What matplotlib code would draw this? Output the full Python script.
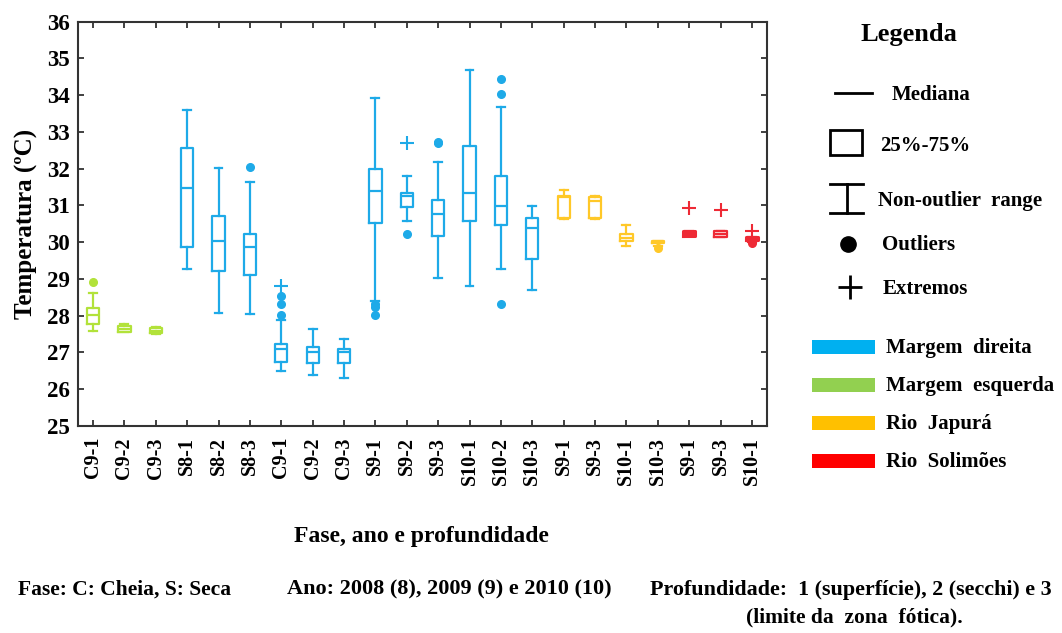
import matplotlib.pyplot as plt
from matplotlib.lines import Line2D
from matplotlib.patches import Rectangle

plt.rcParams['font.family'] = ['Liberation Serif', 'DejaVu Serif']
plt.rcParams['font.weight'] = 'bold'

# Categorias (fase + ano - profundidade)
rotulos = ['C9-1', 'C9-2', 'C9-3', 'S8-1', 'S8-2', 'S8-3', 'C9-1', 'C9-2', 'C9-3',
           'S9-1', 'S9-2', 'S9-3', 'S10-1', 'S10-2', 'S10-3', 'S9-1', 'S9-3',
           'S10-1', 'S10-3', 'S9-1', 'S9-3', 'S10-1']
grupo = ['esq'] * 3 + ['dir'] * 12 + ['jap'] * 4 + ['sol'] * 3

# Estatisticas de temperatura (ºC)
minimo = [27.59, 27.55, 27.50, 29.27, 28.08, 28.04, 26.49, 26.40, 26.31,
          28.40, 30.58, 29.03, 28.80, 29.26, 28.71, 30.63, 30.63,
          29.89, 29.90, 30.16, 30.14, 30.00]
q1 = [27.77, 27.57, 27.52, 29.88, 29.21, 29.12, 26.73, 26.72, 26.72,
      30.52, 30.97, 30.16, 30.57, 30.48, 29.53, 30.65, 30.65,
      30.02, 29.98, 30.17, 30.15, 30.05]
mediana = [28.01, 27.65, 27.59, 31.47, 30.04, 29.88, 27.09, 27.00, 27.00,
           31.38, 31.26, 30.76, 31.34, 30.98, 30.39, 31.22, 31.11,
           30.11, 30.00, 30.22, 30.22, 30.10]
q3 = [28.22, 27.72, 27.66, 32.56, 30.71, 30.22, 27.23, 27.14, 27.09,
      31.98, 31.34, 31.16, 32.61, 31.80, 30.67, 31.26, 31.23,
      30.22, 30.02, 30.31, 30.31, 30.14]
maximo = [28.61, 27.78, 27.69, 33.60, 32.02, 31.65, 27.89, 27.63, 27.36,
          33.92, 31.79, 32.19, 34.69, 33.69, 30.98, 31.43, 31.25,
          30.48, 30.03, 30.31, 30.31, 30.15]
outliers = [[28.92], [], [], [], [], [32.05], [28.01, 28.33, 28.53], [], [],
            [28.32, 28.25, 28.01], [30.23], [32.70, 32.73], [], [28.33, 34.04, 34.44], [],
            [], [], [], [29.84], [], [], [29.99]]
extremos = [[], [], [], [], [], [], [28.80], [], [],
            [], [32.70], [], [], [], [],
            [], [], [], [], [30.93], [30.87], [30.30]]

cor_caixa = {'dir': '#1eaae8', 'esq': '#b2e23a', 'jap': '#ffc828', 'sol': '#ee2a35'}

fig = plt.figure(figsize=(10.62, 6.33), dpi=100)
ax = fig.add_axes([0.0734, 0.327, 0.6488, 0.6389])

for i in range(len(rotulos)):
    c = cor_caixa[grupo[i]]
    # caixas do Solimoes quase cheias, exceto S9-3
    lw = 2.2 if (grupo[i] == 'sol' and i != 20) else 1.6
    st = [{'med': mediana[i], 'q1': q1[i], 'q3': q3[i],
           'whislo': minimo[i], 'whishi': maximo[i], 'fliers': outliers[i]}]
    ax.bxp(st, positions=[i], widths=0.39, showfliers=True,
           boxprops=dict(color=c, linewidth=lw),
           medianprops=dict(color=c, linewidth=lw),
           whiskerprops=dict(color=c, linewidth=1.6),
           capprops=dict(color=c, linewidth=1.6), capwidths=0.25,
           flierprops=dict(marker='o', markerfacecolor=c, markeredgecolor=c,
                           markersize=5.5, linestyle='none'))
    if extremos[i]:
        ax.plot([i] * len(extremos[i]), extremos[i], linestyle='none', marker='+',
                color=c, markersize=10, markeredgewidth=1.5)

ax.set_xlim(-0.48, len(rotulos) - 1 + 0.48)
ax.set_ylim(25, 36)
ax.set_yticks(range(25, 37))
ax.set_xticks(range(len(rotulos)))
ax.set_xticklabels(rotulos, rotation=90, fontsize=14.5, fontweight='bold')
ax.tick_params(axis='y', labelsize=16.5, pad=6)
ax.tick_params(axis='x', pad=8)
ax.tick_params(direction='in', top=True, right=True, length=4, width=1.3, color='#333333')
for s in ax.spines.values():
    s.set_linewidth(1.5)
    s.set_color('#333333')

ax.set_ylabel('Temperatura (ºC)', fontsize=18, fontweight='bold', labelpad=6)

fig.text(0.397, 0.152, 'Fase, ano e profundidade', fontsize=17, fontweight='bold',
         ha='center', va='center')
fig.text(0.017, 0.068, 'Fase: C: Cheia, S: Seca', fontsize=15.5, fontweight='bold', va='center')
fig.text(0.270, 0.068, 'Ano: 2008 (8), 2009 (9) e 2010 (10)', fontsize=16,
         fontweight='bold', va='center')
fig.text(0.612, 0.068, 'Profundidade:  1 (superfície), 2 (secchi) e 3', fontsize=15.8,
         fontweight='bold', va='center')
fig.text(0.702, 0.024, '(limite da  zona  fótica).', fontsize=15.5,
         fontweight='bold', va='center')

# Legenda desenhada a mao, ao lado do grafico
W, H = 1062, 633


def fx(px):
    return px / W


def fy(py):
    return 1 - py / H


fig.text(fx(909), fy(35), 'Legenda', fontsize=19, fontweight='bold', ha='center', va='center')
tam = 15
fig.add_artist(Line2D([fx(835), fx(872)], [fy(93), fy(93)], color='black', lw=2))
fig.text(fx(892), fy(95), 'Mediana', fontsize=tam, fontweight='bold', va='center')
fig.add_artist(Rectangle((fx(830), fy(155)), fx(32), 25 / H, fill=False, ec='black', lw=2))
fig.text(fx(880), fy(146), '25%-75%', fontsize=tam, fontweight='bold', va='center')
fig.add_artist(Line2D([fx(830), fx(863)], [fy(184), fy(184)], color='black', lw=2))
fig.add_artist(Line2D([fx(830), fx(863)], [fy(213), fy(213)], color='black', lw=2))
fig.add_artist(Line2D([fx(846.5), fx(846.5)], [fy(184), fy(213)], color='black', lw=2))
fig.text(fx(878), fy(201), 'Non-outlier  range', fontsize=tam, fontweight='bold', va='center')
fig.add_artist(Line2D([fx(848)], [fy(244)], marker='o', color='black', markersize=11))
fig.text(fx(882), fy(245), 'Outliers', fontsize=tam, fontweight='bold', va='center')
fig.add_artist(Line2D([fx(850)], [fy(287)], marker='+', color='black', markersize=17,
                      markeredgewidth=2))
fig.text(fx(883), fy(289), 'Extremos', fontsize=tam, fontweight='bold', va='center')

grupos_leg = ['Margem  direita', 'Margem  esquerda', 'Rio  Japurá', 'Rio  Solimões']
cores_leg = ['#00b0f0', '#92d050', '#ffc000', '#ff0000']
for k, (nome, cor) in enumerate(zip(grupos_leg, cores_leg)):
    yc = 347 + k * 38
    fig.add_artist(Rectangle((fx(812), fy(yc + 7)), fx(63), 14 / H, color=cor, lw=0))
    fig.text(fx(886), fy(yc + 1), nome, fontsize=tam, fontweight='bold', va='center')

fig.savefig('out.png', dpi=100)
